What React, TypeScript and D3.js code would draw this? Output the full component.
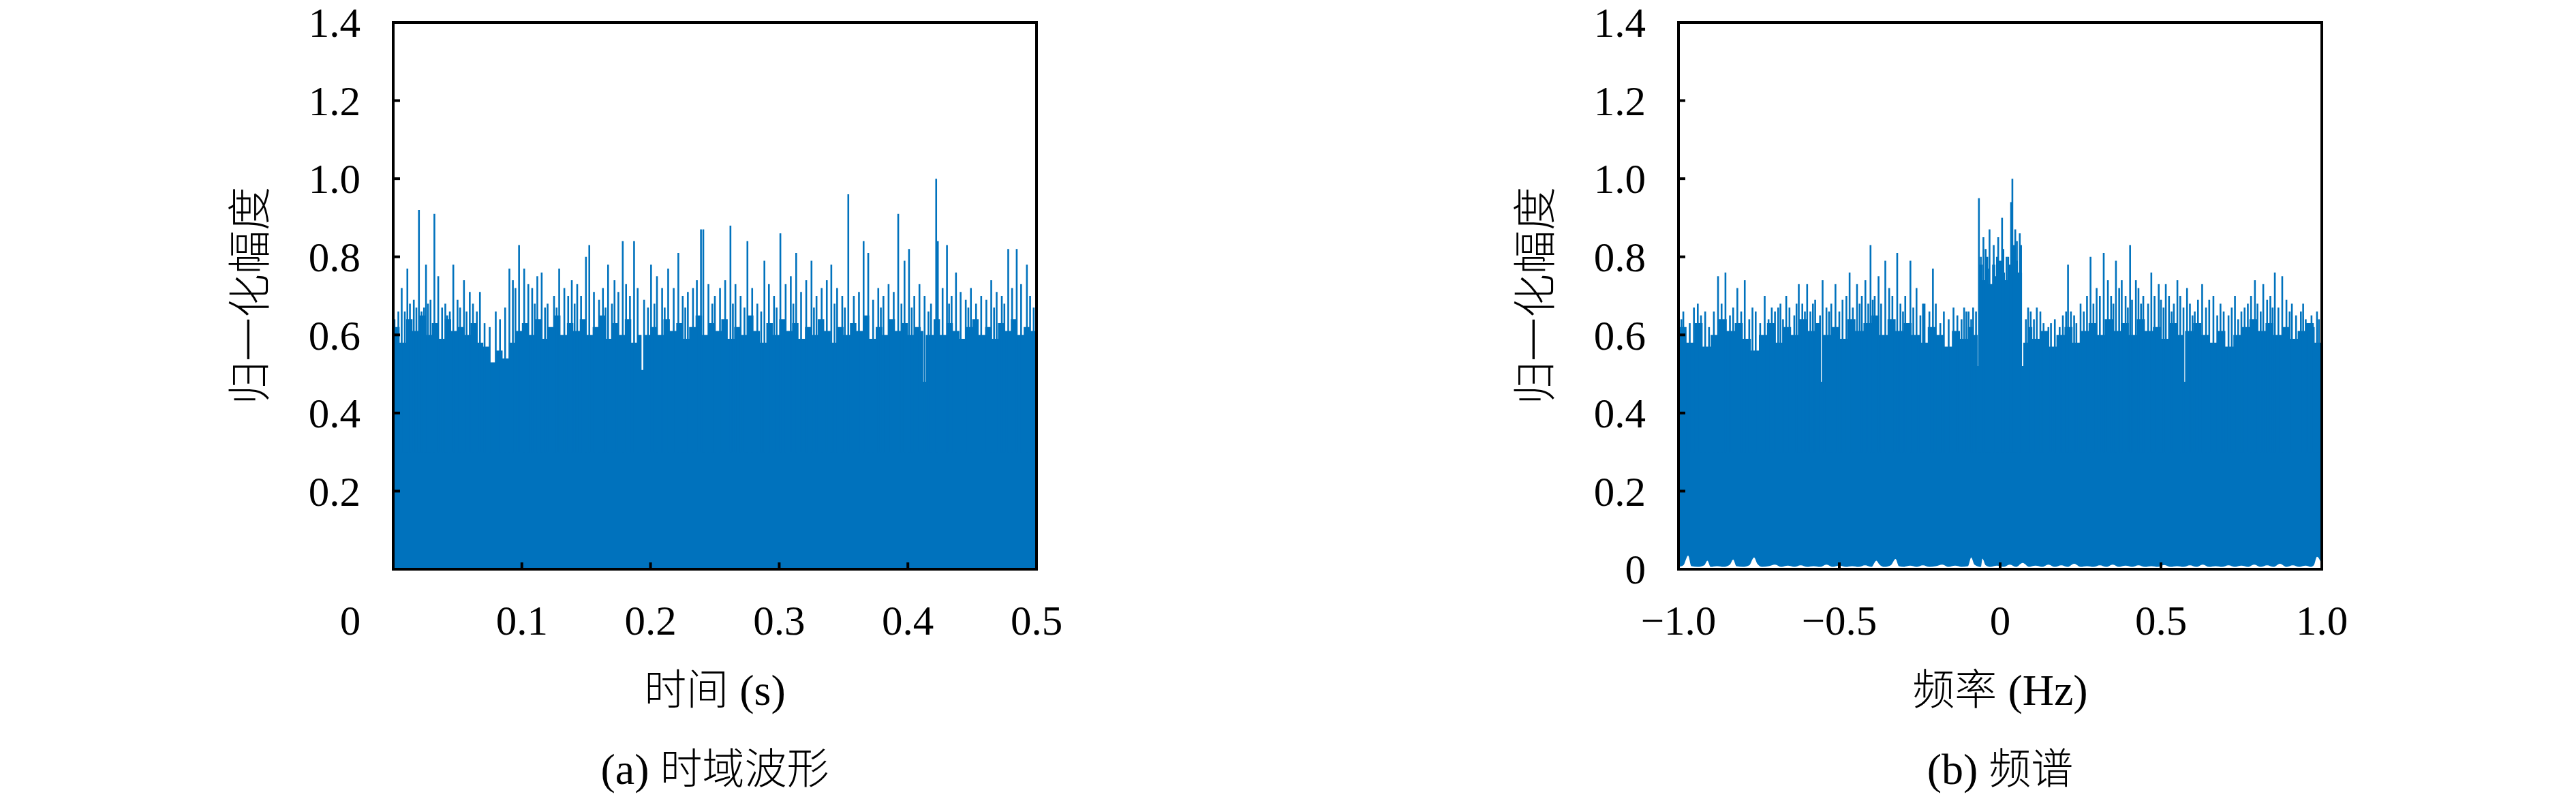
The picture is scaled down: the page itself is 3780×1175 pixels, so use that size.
import React from "react";
import * as d3 from "d3";

// ---------- data ----------
const timeTicks = [0.1, 0.2, 0.3, 0.4, 0.5];
const timeTickLabels = ["0.1", "0.2", "0.3", "0.4", "0.5"];
const ampTicksA = [0.2, 0.4, 0.6, 0.8, 1.0, 1.2, 1.4];
const ampTickLabelsA = ["0.2", "0.4", "0.6", "0.8", "1.0", "1.2", "1.4"];
const ampTicksB = [0, 0.2, 0.4, 0.6, 0.8, 1.0, 1.2, 1.4];
const ampTickLabelsB = ["0", "0.2", "0.4", "0.6", "0.8", "1.0", "1.2", "1.4"];
const freqTicks = [-1, -0.5, 0, 0.5, 1];
const freqTickLabels = ["\u22121.0", "\u22120.5", "0", "0.5", "1.0"];

// time-domain dense body (top of the solid fill), t every 0.005 s
const timeBodyT = [0,0.005,0.01,0.015,0.02,0.025,0.03,0.035,0.04,0.045,0.05,0.055,0.06,0.065,0.07,0.075,0.08,0.085,0.09,0.095,0.1,0.105,0.11,0.115,0.12,0.125,0.13,0.135,0.14,0.145,0.15,0.155,0.16,0.165,0.17,0.175,0.18,0.185,0.19,0.193,0.195,0.2,0.205,0.21,0.215,0.22,0.225,0.23,0.235,0.24,0.245,0.25,0.255,0.26,0.265,0.27,0.275,0.28,0.285,0.29,0.295,0.3,0.305,0.31,0.315,0.32,0.325,0.33,0.335,0.34,0.345,0.35,0.355,0.36,0.365,0.37,0.375,0.38,0.385,0.39,0.395,0.4,0.405,0.41,0.412,0.414,0.42,0.425,0.43,0.435,0.44,0.445,0.45,0.455,0.46,0.465,0.47,0.475,0.48,0.485,0.49,0.495,0.5];
const timeBodyV = [0.62,0.58,0.64,0.61,0.65,0.60,0.63,0.59,0.64,0.61,0.62,0.60,0.63,0.58,0.57,0.53,0.56,0.54,0.58,0.61,0.63,0.60,0.64,0.59,0.62,0.65,0.60,0.63,0.61,0.64,0.60,0.62,0.65,0.59,0.63,0.60,0.64,0.58,0.60,0.51,0.60,0.62,0.60,0.64,0.61,0.63,0.59,0.62,0.65,0.60,0.63,0.61,0.64,0.59,0.62,0.60,0.65,0.61,0.58,0.63,0.60,0.64,0.61,0.63,0.59,0.62,0.60,0.64,0.61,0.58,0.62,0.60,0.63,0.61,0.65,0.59,0.62,0.60,0.64,0.61,0.63,0.60,0.62,0.61,0.48,0.60,0.64,0.60,0.63,0.61,0.59,0.62,0.64,0.60,0.62,0.59,0.63,0.61,0.64,0.60,0.62,0.61,0.60];

// time-domain spikes (t, amplitude)
const timeSpikeT = [0.001,0.004,0.0066,0.009,0.011,0.013,0.016,0.018,0.020,0.022,0.024,0.0255,0.027,0.029,0.032,0.035,0.038,0.0405,0.042,0.044,0.0467,0.050,0.052,0.055,0.057,0.0595,0.062,0.065,0.0674,0.071,0.075,0.0797,0.083,0.087,0.0903,0.093,0.095,0.0978,0.1018,0.105,0.108,0.110,0.112,0.1154,0.118,0.120,0.125,0.127,0.129,0.133,0.136,0.1388,0.141,0.143,0.146,0.1498,0.1524,0.156,0.160,0.163,0.165,0.167,0.170,0.172,0.175,0.1784,0.181,0.184,0.1872,0.190,0.195,0.198,0.2004,0.203,0.205,0.209,0.211,0.2137,0.218,0.2216,0.225,0.227,0.229,0.233,0.236,0.2392,0.241,0.245,0.248,0.250,0.254,0.258,0.2621,0.264,0.266,0.270,0.273,0.2753,0.279,0.283,0.286,0.2885,0.292,0.296,0.298,0.3009,0.305,0.309,0.311,0.3132,0.317,0.321,0.3251,0.327,0.329,0.333,0.337,0.3405,0.343,0.345,0.349,0.351,0.3537,0.358,0.362,0.3656,0.3692,0.373,0.377,0.379,0.381,0.385,0.389,0.3925,0.395,0.3974,0.4009,0.403,0.405,0.409,0.413,0.416,0.418,0.422,0.4233,0.427,0.4304,0.432,0.434,0.4374,0.441,0.445,0.447,0.449,0.453,0.457,0.461,0.4648,0.467,0.469,0.473,0.475,0.478,0.481,0.4846,0.488,0.4925,0.495,0.4978];
const timeSpikeV = [0.64,0.66,0.72,0.66,0.77,0.68,0.69,0.67,0.92,0.66,0.67,0.78,0.68,0.69,0.91,0.75,0.67,0.68,0.65,0.66,0.78,0.69,0.67,0.74,0.66,0.71,0.68,0.66,0.71,0.63,0.62,0.66,0.64,0.67,0.77,0.74,0.72,0.83,0.77,0.73,0.72,0.68,0.75,0.76,0.67,0.68,0.70,0.67,0.77,0.72,0.70,0.74,0.68,0.73,0.70,0.80,0.83,0.71,0.69,0.72,0.67,0.78,0.68,0.74,0.71,0.84,0.73,0.70,0.84,0.72,0.69,0.67,0.78,0.68,0.75,0.72,0.67,0.77,0.72,0.81,0.70,0.67,0.71,0.72,0.74,0.87,0.87,0.73,0.68,0.70,0.72,0.74,0.88,0.68,0.73,0.70,0.67,0.84,0.72,0.68,0.66,0.79,0.73,0.70,0.67,0.86,0.73,0.75,0.68,0.81,0.71,0.74,0.79,0.67,0.70,0.72,0.74,0.78,0.68,0.72,0.70,0.67,0.96,0.70,0.71,0.84,0.81,0.69,0.72,0.67,0.70,0.73,0.71,0.91,0.68,0.79,0.82,0.67,0.70,0.73,0.70,0.66,0.68,1.00,0.84,0.72,0.83,0.68,0.70,0.76,0.71,0.69,0.67,0.72,0.68,0.70,0.69,0.74,0.67,0.71,0.70,0.68,0.82,0.72,0.82,0.73,0.78,0.70,0.67];

// spectrum dense body (top of the solid fill)
const freqBodyF = [-1,-0.975,-0.95,-0.925,-0.9,-0.875,-0.85,-0.825,-0.8,-0.775,-0.75,-0.725,-0.7,-0.675,-0.65,-0.625,-0.6,-0.575,-0.5575,-0.552,-0.525,-0.5,-0.475,-0.45,-0.425,-0.4,-0.375,-0.35,-0.325,-0.3,-0.275,-0.25,-0.225,-0.2,-0.175,-0.15,-0.125,-0.1,-0.085,-0.07,-0.066,-0.055,-0.045,-0.035,-0.025,-0.015,-0.005,0.005,0.015,0.025,0.035,0.045,0.055,0.068,0.072,0.085,0.1,0.125,0.15,0.175,0.2,0.225,0.25,0.275,0.3,0.325,0.35,0.375,0.4,0.425,0.45,0.475,0.5,0.525,0.55,0.57,0.575,0.6,0.625,0.65,0.675,0.7,0.725,0.75,0.775,0.8,0.825,0.85,0.875,0.9,0.925,0.95,0.975,1];
const freqBodyV = [0.62,0.58,0.63,0.57,0.60,0.64,0.61,0.63,0.59,0.56,0.60,0.63,0.58,0.62,0.60,0.64,0.61,0.63,0.48,0.60,0.62,0.59,0.64,0.61,0.63,0.65,0.60,0.64,0.61,0.63,0.60,0.58,0.62,0.60,0.57,0.61,0.59,0.62,0.60,0.52,0.78,0.74,0.77,0.73,0.78,0.75,0.79,0.76,0.74,0.78,0.75,0.79,0.76,0.52,0.58,0.62,0.59,0.61,0.57,0.60,0.62,0.58,0.61,0.63,0.60,0.64,0.61,0.63,0.60,0.64,0.61,0.62,0.59,0.63,0.60,0.48,0.61,0.63,0.60,0.58,0.61,0.57,0.60,0.62,0.64,0.61,0.63,0.60,0.62,0.59,0.61,0.63,0.58,0.60];

// spectrum floor (the smallest values, the white notches along the bottom)
const freqFloorF = [-1,-0.985,-0.97,-0.96,-0.94,-0.92,-0.91,-0.9,-0.88,-0.86,-0.84,-0.83,-0.82,-0.8,-0.78,-0.765,-0.755,-0.74,-0.72,-0.7,-0.68,-0.66,-0.64,-0.62,-0.6,-0.58,-0.56,-0.54,-0.52,-0.5,-0.48,-0.46,-0.44,-0.42,-0.4,-0.385,-0.375,-0.36,-0.34,-0.325,-0.315,-0.3,-0.28,-0.26,-0.24,-0.22,-0.2,-0.18,-0.16,-0.14,-0.12,-0.1,-0.09,-0.08,-0.06,-0.055,-0.045,-0.03,-0.01,0.01,0.03,0.05,0.07,0.09,0.11,0.13,0.15,0.17,0.19,0.21,0.23,0.25,0.27,0.29,0.31,0.33,0.35,0.37,0.39,0.41,0.43,0.45,0.47,0.49,0.51,0.53,0.55,0.57,0.59,0.61,0.63,0.65,0.67,0.69,0.71,0.73,0.75,0.77,0.79,0.81,0.83,0.85,0.87,0.89,0.91,0.93,0.95,0.965,0.975,0.985,1];
const freqFloorV = [0.006,0.010,0.035,0.008,0.006,0.010,0.022,0.006,0.008,0.006,0.012,0.025,0.008,0.006,0.010,0.030,0.014,0.006,0.008,0.012,0.006,0.009,0.006,0.010,0.006,0.008,0.006,0.012,0.006,0.009,0.006,0.008,0.006,0.010,0.006,0.022,0.012,0.006,0.010,0.026,0.008,0.006,0.009,0.006,0.010,0.006,0.008,0.012,0.006,0.009,0.006,0.008,0.030,0.012,0.006,0.027,0.010,0.006,0.009,0.006,0.012,0.006,0.016,0.006,0.009,0.006,0.012,0.006,0.010,0.006,0.014,0.006,0.008,0.006,0.010,0.006,0.012,0.006,0.009,0.006,0.010,0.006,0.008,0.006,0.011,0.006,0.008,0.006,0.010,0.006,0.012,0.006,0.008,0.006,0.010,0.006,0.009,0.006,0.012,0.006,0.010,0.006,0.014,0.006,0.010,0.006,0.009,0.006,0.010,0.032,0.012];

// spectrum spikes (f, amplitude)
const freqSpikeF = [-0.991,-0.985,-0.979,-0.965,-0.952,-0.940,-0.930,-0.917,-0.905,-0.890,-0.877,-0.866,-0.854,-0.840,-0.830,-0.817,-0.805,-0.794,-0.780,-0.770,-0.760,-0.746,-0.732,-0.720,-0.710,-0.700,-0.690,-0.683,-0.675,-0.665,-0.655,-0.640,-0.633,-0.626,-0.615,-0.607,-0.600,-0.590,-0.582,-0.575,-0.560,-0.552,-0.540,-0.532,-0.525,-0.512,-0.500,-0.490,-0.478,-0.468,-0.458,-0.445,-0.437,-0.430,-0.419,-0.410,-0.403,-0.396,-0.390,-0.378,-0.370,-0.357,-0.345,-0.335,-0.320,-0.310,-0.302,-0.295,-0.279,-0.270,-0.260,-0.248,-0.240,-0.235,-0.220,-0.209,-0.200,-0.186,-0.175,-0.160,-0.145,-0.133,-0.120,-0.112,-0.105,-0.098,-0.090,-0.084,-0.075,-0.066,-0.060,-0.052,-0.045,-0.040,-0.033,-0.020,-0.010,-0.006,0.006,0.010,0.020,0.025,0.034,0.038,0.042,0.047,0.052,0.061,0.065,0.080,0.087,0.095,0.105,0.114,0.125,0.135,0.150,0.158,0.170,0.185,0.195,0.205,0.211,0.220,0.230,0.237,0.250,0.260,0.270,0.281,0.290,0.300,0.310,0.322,0.335,0.345,0.352,0.360,0.370,0.378,0.390,0.397,0.404,0.410,0.422,0.430,0.438,0.445,0.460,0.470,0.480,0.493,0.500,0.508,0.515,0.525,0.533,0.540,0.551,0.560,0.570,0.581,0.590,0.598,0.605,0.615,0.628,0.640,0.650,0.663,0.675,0.685,0.695,0.710,0.720,0.730,0.740,0.750,0.760,0.770,0.780,0.792,0.800,0.810,0.818,0.830,0.840,0.847,0.854,0.865,0.877,0.890,0.900,0.907,0.920,0.935,0.942,0.950,0.960,0.968,0.975,0.985,0.991];
const freqSpikeV = [0.64,0.66,0.61,0.63,0.67,0.68,0.65,0.66,0.62,0.66,0.75,0.68,0.76,0.65,0.67,0.72,0.66,0.74,0.64,0.67,0.66,0.63,0.70,0.64,0.67,0.66,0.67,0.68,0.64,0.70,0.67,0.65,0.68,0.73,0.68,0.66,0.73,0.66,0.68,0.69,0.65,0.74,0.67,0.66,0.68,0.73,0.66,0.69,0.70,0.76,0.67,0.73,0.68,0.70,0.74,0.68,0.83,0.69,0.70,0.75,0.68,0.79,0.72,0.70,0.81,0.68,0.66,0.70,0.79,0.67,0.72,0.65,0.68,0.68,0.66,0.77,0.68,0.63,0.66,0.64,0.67,0.65,0.64,0.67,0.66,0.66,0.64,0.67,0.66,0.95,0.80,0.85,0.82,0.80,0.87,0.83,0.80,0.85,0.90,0.82,0.80,0.80,0.94,1.00,0.83,0.87,0.84,0.86,0.83,0.64,0.67,0.66,0.64,0.67,0.66,0.63,0.62,0.63,0.64,0.62,0.65,0.66,0.78,0.66,0.65,0.63,0.68,0.66,0.70,0.80,0.68,0.72,0.70,0.81,0.74,0.70,0.68,0.79,0.72,0.74,0.70,0.67,0.83,0.69,0.74,0.72,0.68,0.70,0.68,0.76,0.70,0.73,0.69,0.67,0.73,0.70,0.66,0.68,0.74,0.70,0.67,0.72,0.68,0.65,0.66,0.69,0.73,0.67,0.69,0.70,0.65,0.68,0.66,0.65,0.67,0.70,0.64,0.66,0.67,0.68,0.70,0.74,0.68,0.66,0.73,0.69,0.70,0.67,0.76,0.67,0.75,0.69,0.66,0.68,0.65,0.66,0.68,0.64,0.63,0.65,0.62,0.66,0.64];

// ---------- layout ----------
const W = 3780;
const H = 1175;
const BLUE = "#0072BD";
const SERIF = "'Liberation Serif', 'Times New Roman', serif";
const CJK = "'Noto Sans CJK SC', 'Noto Sans CJK JP', sans-serif";
const yTop = 33;
const yBot = 835;

const yScale = d3.scaleLinear().domain([0, 1.4]).range([yBot, yTop]);
const xTime = d3.scaleLinear().domain([0, 0.5]).range([577, 1521]);
const xFreq = d3.scaleLinear().domain([-1, 1]).range([2463, 3407]);

function Panel(props: {
  id: string;
  x: d3.ScaleLinear<number, number>;
  bodyX: number[];
  bodyV: number[];
  floorX: number[] | null;
  floorV: number[] | null;
  spikeX: number[];
  spikeV: number[];
  xTicks: number[];
  xTickLabels: string[];
  yTicks: number[];
  yTickLabels: string[];
  xTitleCjk: string;
  xTitleLatin: string;
  capLatin: string;
  capCjk: string;
}) {
  const { x } = props;
  const [x0, x1] = x.range();
  const cx = (x0 + x1) / 2;
  const idx = props.bodyX.map((_, i) => i);
  const area = d3
    .area<number>()
    .x((i) => x(props.bodyX[i]))
    .y0(yScale(0))
    .y1((i) => yScale(props.bodyV[i]))
    .curve(d3.curveStepAfter);

  const floorArea =
    props.floorX && props.floorV
      ? d3
          .area<number>()
          .x((j) => x(props.floorX![j]))
          .y0(yScale(0))
          .y1((j) => yScale(props.floorV![j]))
          .curve(d3.curveMonotoneX)(props.floorX.map((_, j) => j))
      : null;

  return (
    <g>
      <defs>
        <clipPath id={"clip-" + props.id}>
          <rect x={x0} y={yTop} width={x1 - x0} height={yBot - yTop} />
        </clipPath>
      </defs>
      <g clipPath={`url(#clip-${props.id})`}>
        <path d={area(idx) || ""} fill={BLUE} />
        {props.spikeX.map((sx, i) => (
          <line
            key={i}
            x1={x(sx)}
            x2={x(sx)}
            y1={yScale(0.3)}
            y2={yScale(props.spikeV[i])}
            stroke={BLUE}
            strokeWidth={2.6}
          />
        ))}
        {floorArea && <path d={floorArea} fill="#ffffff" />}
      </g>
      {/* ticks (inward, left and bottom only) */}
      {props.xTicks.map((t, i) => (
        <line key={"xt" + i} x1={x(t)} x2={x(t)} y1={yBot} y2={yBot - 10} stroke="#000" strokeWidth={4} />
      ))}
      {props.yTicks.map((t, i) => (
        <line key={"yt" + i} x1={x0} x2={x0 + 10} y1={yScale(t)} y2={yScale(t)} stroke="#000" strokeWidth={4} />
      ))}
      <rect x={x0} y={yTop} width={x1 - x0} height={yBot - yTop} fill="none" stroke="#000" strokeWidth={4} />
      {/* tick labels */}
      {props.xTicks.map((t, i) => (
        <text key={"xl" + i} x={x(t)} y={931} textAnchor="middle" fontFamily={SERIF} fontSize={61} fill="#000">
          {props.xTickLabels[i]}
        </text>
      ))}
      {props.yTicks.map((t, i) => (
        <text key={"yl" + i} x={x0 - 48} y={yScale(t)} dy="0.35em" textAnchor="end" fontFamily={SERIF} fontSize={61} fill="#000">
          {props.yTickLabels[i]}
        </text>
      ))}
      {/* y title */}
      <text
        transform={`translate(${x0 - 210},${434}) rotate(-90)`}
        textAnchor="middle"
        dy="0.35em"
        fontFamily={CJK}
        fontWeight={300}
        fontSize={64}
        fill="#000"
      >
        归一化幅度
      </text>
      {/* x title */}
      <text x={cx} y={1034} textAnchor="middle" fill="#000">
        <tspan fontFamily={CJK} fontWeight={300} fontSize={62}>{props.xTitleCjk}</tspan>
        <tspan fontFamily={SERIF} fontSize={64}>{" " + props.xTitleLatin}</tspan>
      </text>
      {/* caption */}
      <text x={cx} y={1150} textAnchor="middle" fill="#000">
        <tspan fontFamily={SERIF} fontSize={64}>{props.capLatin + " "}</tspan>
        <tspan fontFamily={CJK} fontWeight={300} fontSize={62}>{props.capCjk}</tspan>
      </text>
    </g>
  );
}

export default function App() {
  return (
    <svg width={W} height={H} viewBox={`0 0 ${W} ${H}`} style={{ position: "absolute", left: 0, top: 0, background: "#fff" }}>
      <rect x={0} y={0} width={W} height={H} fill="#fff" />
      <Panel
        id="a"
        x={xTime}
        bodyX={timeBodyT}
        bodyV={timeBodyV}
        floorX={null}
        floorV={null}
        spikeX={timeSpikeT}
        spikeV={timeSpikeV}
        xTicks={timeTicks}
        xTickLabels={timeTickLabels}
        yTicks={ampTicksA}
        yTickLabels={ampTickLabelsA}
        xTitleCjk="时间"
        xTitleLatin="(s)"
        capLatin="(a)"
        capCjk="时域波形"
      />
      <text x={514} y={931} textAnchor="middle" fontFamily={SERIF} fontSize={61} fill="#000">0</text>
      <Panel
        id="b"
        x={xFreq}
        bodyX={freqBodyF}
        bodyV={freqBodyV}
        floorX={freqFloorF}
        floorV={freqFloorV}
        spikeX={freqSpikeF}
        spikeV={freqSpikeV}
        xTicks={freqTicks}
        xTickLabels={freqTickLabels}
        yTicks={ampTicksB}
        yTickLabels={ampTickLabelsB}
        xTitleCjk="频率"
        xTitleLatin="(Hz)"
        capLatin="(b)"
        capCjk="频谱"
      />
    </svg>
  );
}
